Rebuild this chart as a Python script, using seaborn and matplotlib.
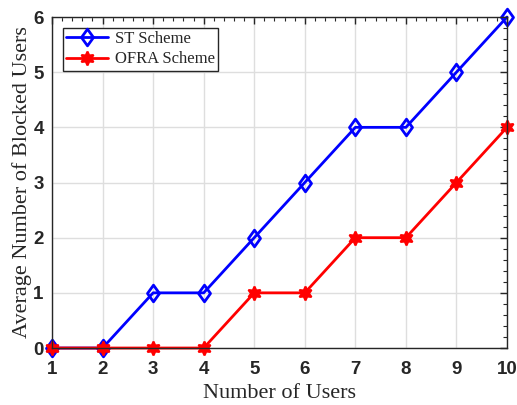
import matplotlib
matplotlib.use("Agg")
import matplotlib.pyplot as plt
import seaborn as sns
import pandas as pd
import numpy as np
from matplotlib.ticker import MultipleLocator
from matplotlib.path import Path

users = [1, 2, 3, 4, 5, 6, 7, 8, 9, 10]
st_scheme = [0, 0, 1, 1, 2, 3, 4, 4, 5, 6]
ofra_scheme = [0, 0, 0, 0, 1, 1, 2, 2, 3, 4]
series_names = ["ST Scheme", "OFRA Scheme"]

sns.set_theme(style="white")
plt.rcParams['font.family'] = ['Liberation Sans', 'DejaVu Sans']

df = pd.DataFrame({
    "users": users * 2,
    "value": st_scheme + ofra_scheme,
    "scheme": [series_names[0]] * len(users) + [series_names[1]] * len(users),
})

diamond = Path([(0, 1), (0.72, 0), (0, -1), (-0.72, 0), (0, 1)],
               [Path.MOVETO, Path.LINETO, Path.LINETO, Path.LINETO, Path.CLOSEPOLY])

fig = plt.figure(figsize=(5.17, 4.05), dpi=100)
ax = fig.add_axes([0.1006, 0.1407, 0.8801, 0.8173])

sns.lineplot(data=df[df.scheme == series_names[0]], x="users", y="value", ax=ax,
             color="#0000FF", lw=2, marker=diamond, markersize=12, markerfacecolor="none",
             markeredgecolor="#0000FF", markeredgewidth=2, label=series_names[0], clip_on=False)
sns.lineplot(data=df[df.scheme == series_names[1]], x="users", y="value", ax=ax,
             color="#FF0000", lw=2, marker=(6, 1, 0), markersize=10, markerfacecolor="#FF0000",
             markeredgecolor="#FF0000", markeredgewidth=1.5, label=series_names[1], clip_on=False)

ax.set_xlim(1, 10)
ax.set_ylim(0, 6)
ax.xaxis.set_major_locator(MultipleLocator(1))
ax.yaxis.set_major_locator(MultipleLocator(1))
ax.xaxis.set_minor_locator(MultipleLocator(0.2))
ax.yaxis.set_minor_locator(MultipleLocator(0.2))
ax.grid(True, which="major", color="#DEDEDE", lw=1)
ax.set_axisbelow(True)
ax.tick_params(which="both", direction="in", top=True, right=True, color="#262626")
ax.tick_params(which="major", length=5, width=1)
ax.tick_params(which="minor", length=3, width=0.8)
ax.tick_params(axis="x", which="major", pad=9)
ax.tick_params(axis="y", which="major", pad=6)
for s in ax.spines.values():
    s.set_color("#262626")
    s.set_linewidth(1)
    s.set_visible(True)
for lab in ax.get_xticklabels() + ax.get_yticklabels():
    lab.set_fontweight("bold")
    lab.set_fontsize(13.5)
    lab.set_color("#262626")

ax.set_xlabel("Number of Users", family="Liberation Serif", fontsize=16, color="#262626", labelpad=5)
ax.set_ylabel("Average Number of Blocked Users", family="Liberation Serif", fontsize=16, color="#262626", labelpad=1)

leg = ax.legend(loc="upper left", prop={"family": "Liberation Serif", "size": 12},
                frameon=True, fancybox=False, edgecolor="#262626", framealpha=1,
                borderaxespad=0.65, handlelength=2.5, borderpad=0.2, labelspacing=0.25,
                handletextpad=0.4)
leg.get_frame().set_linewidth(1)

fig.savefig("out.png", dpi=100)
